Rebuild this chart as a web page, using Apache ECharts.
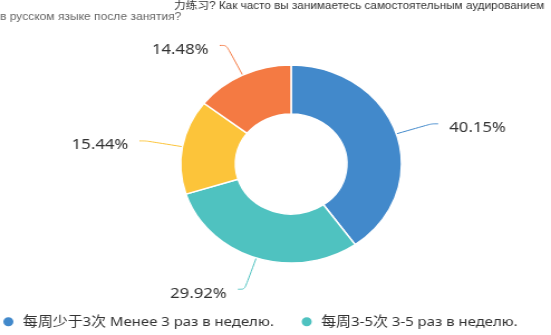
<!DOCTYPE html>
<html>
<head>
    <meta charset="utf-8">
    <title>听力练习频率</title>
    <script src="https://cdn.jsdelivr.net/npm/echarts@6/dist/echarts.min.js" type="text/javascript" charset="utf-8"></script>
    <style>
        html, body { margin: 0; padding: 0; overflow: hidden; background: #fff; }
        /* 原图横向拉伸过，这里用 scaleX 还原 */
        #main { width: 494px; height: 335px; transform: scaleX(1.1154); transform-origin: 0 0; }
    </style>
</head>
<body>
<div id="main"></div>
<script type="text/javascript">
    var titleLines = [
        '力练习? Как часто вы занимаетесь самостоятельным аудированием',
        'в русском языке после занятия?'
    ];
    var categories = [
        '每周少于3次 Менее 3 раз в неделю.',
        '每周3-5次 3-5 раз в неделю.',
        '每周5次以上 Более 5 раз в неделю.',
        '从不 Никогда.'
    ];
    var percents = [40.15, 29.92, 15.44, 14.48];
    var colors = ['#4289cb', '#4fc2c0', '#fcc43a', '#f47a43'];

    var myChart = echarts.init(document.getElementById('main'));

    var pieData = [];
    for (var i = 0; i < categories.length; i++) {
        pieData.push({ name: categories[i], value: percents[i] });
    }

    myChart.setOption({
        animation: false,
        color: colors,
        title: [{
            text: titleLines[0],
            left: 156,
            top: 1,
            padding: 0,
            textStyle: { fontSize: 10.5, fontWeight: 'normal', color: '#333', fontFamily: 'Arial, "Noto Sans CJK SC"' }
        }, {
            text: titleLines[1],
            left: 0,
            top: 12,
            padding: 0,
            textStyle: { fontSize: 10.8, fontWeight: 'normal', color: '#666', fontFamily: 'Arial, "Noto Sans CJK SC"' }
        }],
        legend: {
            data: categories,
            left: 1,
            top: 315,
            right: -20,
            padding: 0,
            icon: 'circle',
            itemWidth: 16,
            itemHeight: 11,
            itemGap: 23,
            textStyle: { fontSize: 13.4, color: '#333', fontFamily: '"Noto Sans", "Noto Sans CJK SC"' }
        },
        series: [{
            type: 'pie',
            center: [261, 164],
            radius: [50, 99],
            startAngle: 90,
            data: pieData,
            itemStyle: { borderColor: '#fff', borderWidth: 1.5 },
            label: {
                formatter: '{c}%',
                fontSize: 15,
                color: '#333',
                fontFamily: '"Noto Sans", Arial',
                distanceToLabelLine: 10
            },
            labelLine: { length: 33, length2: 6, smooth: true, lineStyle: { width: 1 } },
            labelLayout: { dy: 4 },
            emphasis: { disabled: true }
        }]
    });
</script>
</body>
</html>
